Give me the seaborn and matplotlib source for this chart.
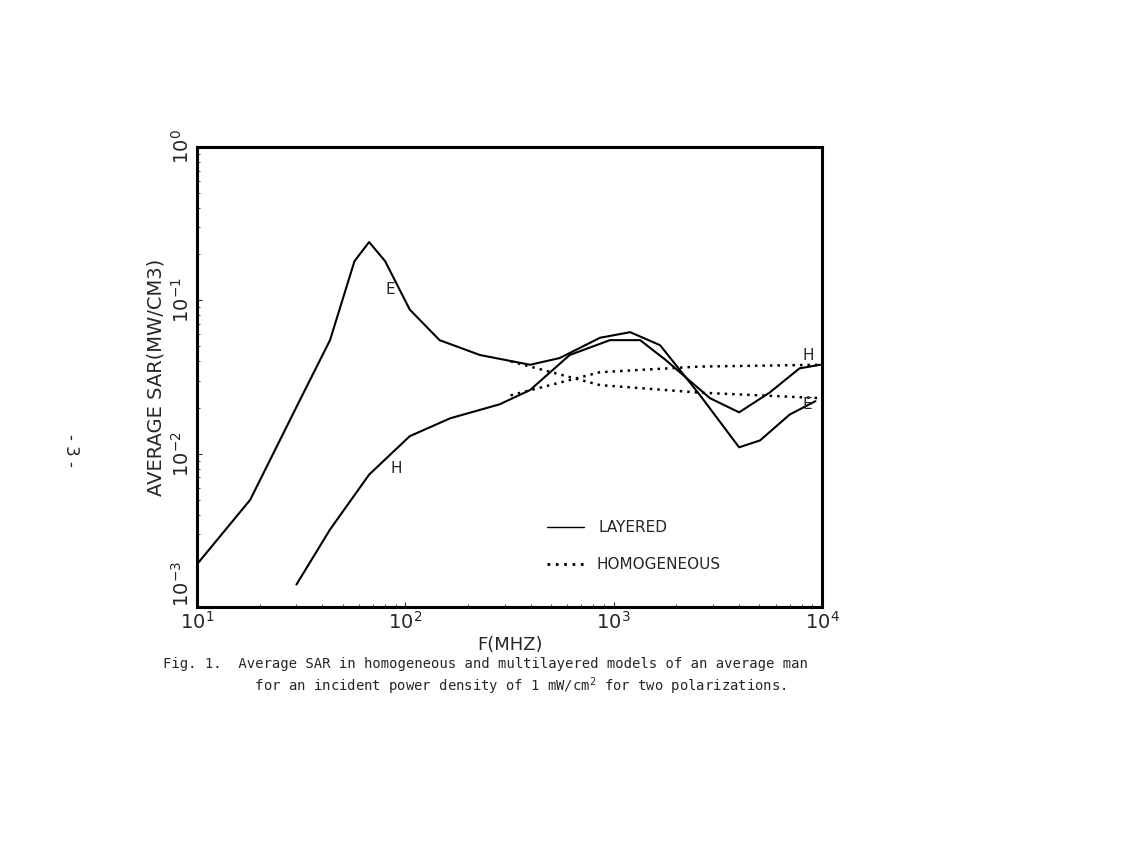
import matplotlib
matplotlib.use("Agg")
import matplotlib.pyplot as plt
import seaborn as sns
import pandas as pd

e_lay_f = [10, 18, 31, 43.5, 57, 67, 80, 105, 146, 228, 397, 550, 860, 1200, 1670, 2600, 4000, 5040, 7000, 9300]
e_lay_v = [0.0019, 0.005, 0.022, 0.055, 0.18, 0.24, 0.18, 0.087, 0.055, 0.044, 0.038, 0.042, 0.057, 0.062, 0.051, 0.024, 0.011, 0.0122, 0.018, 0.022]
h_lay_f = [30, 43.5, 67, 105, 164, 284, 397, 615, 960, 1340, 1770, 2900, 4000, 5600, 7800, 9800]
h_lay_v = [0.0014, 0.0032, 0.0073, 0.013, 0.017, 0.021, 0.026, 0.044, 0.055, 0.055, 0.041, 0.023, 0.0186, 0.025, 0.036, 0.038]
e_hom_f = [320, 860, 2600, 10000]
e_hom_v = [0.040, 0.028, 0.025, 0.023]
h_hom_f = [320, 860, 2600, 10000]
h_hom_v = [0.024, 0.034, 0.037, 0.038]

sns.set_style("ticks")
fig = plt.figure(figsize=(11.31, 8.46), dpi=100)
ax = fig.add_axes([197/1131, 1-607/846, 625/1131, 460/846])

def df(f, v): return pd.DataFrame({"f": f, "v": v})
sns.lineplot(data=df(e_lay_f, e_lay_v), x="f", y="v", ax=ax, color="black", lw=1.5)
sns.lineplot(data=df(h_lay_f, h_lay_v), x="f", y="v", ax=ax, color="black", lw=1.5)
sns.lineplot(data=df(e_hom_f, e_hom_v), x="f", y="v", ax=ax, color="black", lw=1.8, linestyle=(0, (1, 2)))
sns.lineplot(data=df(h_hom_f, h_hom_v), x="f", y="v", ax=ax, color="black", lw=1.8, linestyle=(0, (1, 2)))

ax.set_xscale("log"); ax.set_yscale("log")
ax.set_xlim(10, 1e4); ax.set_ylim(1e-3, 1)
for s in ax.spines.values(): s.set_linewidth(2.2); s.set_color("black")
ax.tick_params(which="both", direction="in", top=False, right=False, pad=3)
ax.set_xticks([10, 100, 1000, 10000])
ax.set_xticklabels(["$10^1$", "$10^2$", "$10^3$", "$10^4$"], fontsize=14)
ax.set_yticks([1e-3, 1e-2, 1e-1, 1])
ax.set_yticklabels(["$10^{-3}$", "$10^{-2}$", "$10^{-1}$", "$10^{0}$"], fontsize=14, rotation=90, va="center")
ax.get_yticklabels()[0].set_va("bottom")
ax.set_xlabel("F(MHZ)", fontsize=13, labelpad=2)
ax.set_ylabel("AVERAGE SAR(MW/CM3)", fontsize=14, labelpad=4)

ax.text(80, 0.11, "E", fontsize=11)
ax.text(85, 0.0075, "H", fontsize=11)
ax.text(8100, 0.041, "H", fontsize=11)
ax.text(8100, 0.0195, "E", fontsize=11)

ax.plot([480, 720], [0.0033, 0.0033], color="black", lw=1)
ax.text(850, 0.0033, "LAYERED", fontsize=11, va="center")
ax.plot([480, 720], [0.0019, 0.0019], color="black", lw=2, linestyle=(0, (1, 2)))
ax.text(830, 0.0019, "HOMOGENEOUS", fontsize=11, va="center")

fig.text(163/1131, 1-677/846, "Fig. 1.  Average SAR in homogeneous and multilayered models of an average man\n           for an incident power density of 1 mW/cm$^2$ for two polarizations.",
         fontsize=10, family="DejaVu Sans Mono", va="center", linespacing=1.3)
fig.text(62/1131, 1-450/846, "- 3 -", fontsize=12, rotation=-90, va="center")
fig.savefig("out.png", dpi=100)
